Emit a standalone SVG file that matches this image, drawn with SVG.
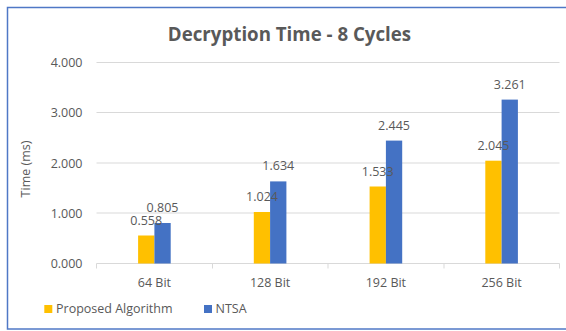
<svg xmlns="http://www.w3.org/2000/svg" width="566" height="331" viewBox="0 0 566 331">
<style>
text{font-family:"Open Sans","Liberation Sans",sans-serif;fill:#595959;font-size:12.5px}
.title{font-size:18.7px;font-weight:bold}
.tick{text-anchor:end}
.mid{text-anchor:middle}
.grid{stroke:#D9D9D9;stroke-width:1;fill:none}
.y{fill:#FFC000}
.b{fill:#4472C4}
</style>
<rect x="0" y="0" width="566" height="331" fill="#FFFFFF"/>
<rect id="frame" x="7.5" y="7.5" width="570" height="321.5" fill="#FFFFFF" stroke="#4F78C6" stroke-width="1.5"/>
<g id="title"><text class="title mid" x="289.5" y="40.7">Decryption Time - 8 Cycles</text></g>
<g id="gridlines">
<path class="grid" d="M96.5 62.5H559.5M96.5 112.5H559.5M96.5 163H559.5M96.5 213H559.5"/>
<path class="grid" d="M96.5 263.5H559.5M96.5 263.5V268.5M212.5 263.5V268.5M328 263.5V268.5M444 263.5V268.5M559.5 263.5V268.5"/>
</g>
<g id="y-axis">
<text class="tick" x="82.5" y="67">4.000</text>
<text class="tick" x="82.5" y="117.3">3.000</text>
<text class="tick" x="82.5" y="167.5">2.000</text>
<text class="tick" x="82.5" y="217.7">1.000</text>
<text class="tick" x="82.5" y="268">0.000</text>
<text class="mid" transform="translate(30,169) rotate(-90)" font-size="13.5">Time (ms)</text>
</g>
<g id="x-axis">
<text class="mid" x="154.4" y="287">64 Bit</text>
<text class="mid" x="270.1" y="287">128 Bit</text>
<text class="mid" x="385.9" y="287">192 Bit</text>
<text class="mid" x="501.6" y="287">256 Bit</text>
</g>
<g id="series-proposed">
<rect class="y" x="138.1" y="235.5" width="16.3" height="28"/>
<rect class="y" x="253.8" y="212" width="16.3" height="51.5"/>
<rect class="y" x="369.6" y="186.5" width="16.3" height="77"/>
<rect class="y" x="485.3" y="160.7" width="16.3" height="102.8"/>
</g>
<g id="series-ntsa">
<rect class="b" x="154.4" y="223" width="16.3" height="40.5"/>
<rect class="b" x="270.1" y="181.4" width="16.3" height="82.1"/>
<rect class="b" x="385.9" y="140.6" width="16.3" height="122.9"/>
<rect class="b" x="501.6" y="99.6" width="16.3" height="163.9"/>
</g>
<g id="data-labels">
<text class="mid" x="146.2" y="224.6">0.558</text>
<text class="mid" x="262" y="201">1.024</text>
<text class="mid" x="377.7" y="175.5">1.533</text>
<text class="mid" x="493.5" y="149.8">2.045</text>
<text class="mid" x="162.5" y="211.6">0.805</text>
<text class="mid" x="278.3" y="170.4">1.634</text>
<text class="mid" x="394" y="129.6">2.445</text>
<text class="mid" x="509.8" y="88.8">3.261</text>
</g>
<g id="legend">
<rect class="y" x="44.3" y="305" width="8" height="8"/>
<text x="56" y="313.4">Proposed Algorithm</text>
<rect class="b" x="204" y="305" width="8" height="8"/>
<text x="215.5" y="313.4">NTSA</text>
</g>
</svg>
